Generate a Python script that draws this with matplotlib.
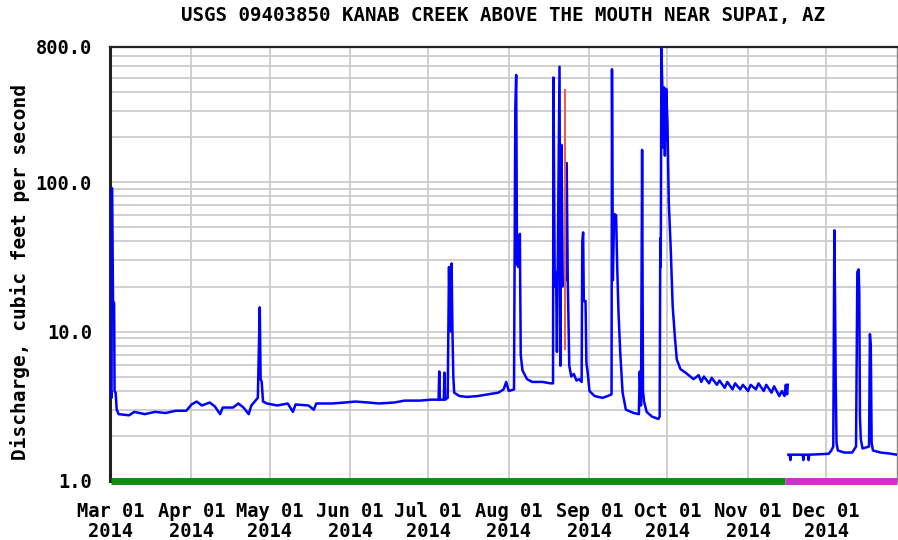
import numpy as np
import pandas as pd
import matplotlib
matplotlib.use('Agg')
import matplotlib.pyplot as plt
import matplotlib.dates as mdates
from matplotlib.ticker import FixedLocator, NullFormatter


#### DATA ####
title = 'USGS 09403850 KANAB CREEK ABOVE THE MOUTH NEAR SUPAI, AZ'
ylabel = 'Discharge, cubic feet per second'

# discharge, Mar 01 - Nov 16
main_times = [
    '2014-03-01 00:00', '2014-03-01 06:00', '2014-03-01 10:00', '2014-03-01 20:00',
    '2014-03-02 06:00', '2014-03-02 10:00', '2014-03-02 20:00', '2014-03-03 06:00',
    '2014-03-04', '2014-03-08', '2014-03-10', '2014-03-14', '2014-03-18', '2014-03-22',
    '2014-03-26', '2014-03-30',
    '2014-04-01', '2014-04-03', '2014-04-05', '2014-04-08', '2014-04-10', '2014-04-12',
    '2014-04-13', '2014-04-17', '2014-04-19', '2014-04-21', '2014-04-23', '2014-04-24',
    '2014-04-26 12:00', '2014-04-27 06:00', '2014-04-27 14:00', '2014-04-28',
    '2014-04-28 12:00', '2014-04-30',
    '2014-05-04', '2014-05-08', '2014-05-10', '2014-05-11', '2014-05-16', '2014-05-18',
    '2014-05-19', '2014-05-25', '2014-05-30',
    '2014-06-03', '2014-06-08', '2014-06-12', '2014-06-18', '2014-06-22', '2014-06-28',
    '2014-07-02', '2014-07-05', '2014-07-05 06:00', '2014-07-05 12:00', '2014-07-07',
    '2014-07-07 06:00', '2014-07-07 12:00', '2014-07-08 12:00', '2014-07-09',
    '2014-07-09 08:00', '2014-07-09 16:00', '2014-07-10', '2014-07-10 08:00',
    '2014-07-10 16:00', '2014-07-11', '2014-07-13', '2014-07-16', '2014-07-20',
    '2014-07-24', '2014-07-28', '2014-07-30', '2014-07-31', '2014-08-01',
    '2014-08-03', '2014-08-03 12:00', '2014-08-03 20:00', '2014-08-04 04:00',
    '2014-08-04 16:00', '2014-08-05 06:00', '2014-08-05 14:00', '2014-08-06 06:00',
    '2014-08-08', '2014-08-10', '2014-08-14', '2014-08-17',
    '2014-08-18 00:00', '2014-08-18 04:00', '2014-08-18 16:00', '2014-08-19 04:00',
    '2014-08-19 12:00', '2014-08-20 12:00', '2014-08-20 20:00', '2014-08-21 06:00',
    '2014-08-21 18:00', '2014-08-22 18:00', '2014-08-23 06:00', '2014-08-23 16:00',
    '2014-08-24 06:00', '2014-08-25', '2014-08-26', '2014-08-27', '2014-08-28',
    '2014-08-29', '2014-08-29 06:00', '2014-08-29 14:00', '2014-08-29 20:00',
    '2014-08-30 12:00', '2014-08-30 20:00', '2014-08-31 12:00',
    '2014-09-01', '2014-09-03', '2014-09-06', '2014-09-08', '2014-09-09 12:00',
    '2014-09-09 16:00', '2014-09-10 00:00', '2014-09-10 12:00', '2014-09-11 06:00',
    '2014-09-11 16:00', '2014-09-12 04:00', '2014-09-12 20:00', '2014-09-13 18:00',
    '2014-09-15', '2014-09-18', '2014-09-20 00:00', '2014-09-20 08:00',
    '2014-09-20 20:00', '2014-09-21 06:00', '2014-09-21 14:00', '2014-09-22',
    '2014-09-23', '2014-09-25', '2014-09-27 12:00',
    '2014-09-28 00:00', '2014-09-28 06:00', '2014-09-28 10:00', '2014-09-28 16:00',
    '2014-09-29 00:00', '2014-09-29 08:00', '2014-09-29 16:00', '2014-09-30 00:00',
    '2014-09-30 12:00', '2014-10-01 00:00', '2014-10-01 12:00', '2014-10-02 06:00',
    '2014-10-03 00:00', '2014-10-03 20:00', '2014-10-04 14:00', '2014-10-06',
    '2014-10-08', '2014-10-11',
    '2014-10-13', '2014-10-14', '2014-10-15', '2014-10-17', '2014-10-18', '2014-10-20',
    '2014-10-21', '2014-10-23', '2014-10-24', '2014-10-26', '2014-10-27', '2014-10-29',
    '2014-10-30', '2014-11-01', '2014-11-02', '2014-11-04', '2014-11-05', '2014-11-07',
    '2014-11-08', '2014-11-10', '2014-11-11', '2014-11-13', '2014-11-14', '2014-11-15',
    '2014-11-15 12:00', '2014-11-16', '2014-11-16 06:00',
]
main_values = [
    4.0, 3.6, 91, 16,
    15.5, 4.0, 3.9, 3.0,
    2.8, 2.75, 2.9, 2.8, 2.9, 2.85,
    2.95, 2.95,
    3.25, 3.4, 3.2, 3.35, 3.15, 2.8,
    3.1, 3.1, 3.3, 3.1, 2.8, 3.2,
    3.6, 14.5, 4.8, 4.6,
    3.4, 3.3,
    3.2, 3.3, 2.9, 3.25, 3.2, 3.0,
    3.3, 3.3, 3.35,
    3.4, 3.35, 3.3, 3.35, 3.45, 3.45,
    3.5, 3.5, 5.4, 3.5, 3.5,
    5.3, 3.5, 3.6, 27,
    12, 10, 28.5, 10,
    5, 3.9, 3.7, 3.65, 3.7,
    3.8, 3.9, 4.1, 4.6, 4.0,
    4.1, 310, 520, 28,
    27, 45, 7, 5.5,
    4.8, 4.6, 4.6, 4.5,
    4.5, 500, 20, 25,
    7.3, 590, 5.9, 177,
    20, 22, 134, 22,
    5.9, 5.0, 5.2, 4.7, 4.8,
    4.6, 40, 46, 16,
    16, 6.2, 5.0,
    4.0, 3.7, 3.6, 3.7, 3.8,
    568, 22, 61, 60,
    27.6, 13.5, 7.3, 3.9,
    3.0, 2.85, 2.8, 5.4,
    3.2, 164, 4.0, 3.4,
    2.9, 2.7, 2.6,
    2.7, 42, 27, 780,
    450, 170, 430, 150,
    420, 250, 74, 36,
    14.8, 9.3, 6.5, 5.6,
    5.3, 4.8,
    5.1, 4.6, 5.0, 4.5, 4.9, 4.4,
    4.7, 4.2, 4.6, 4.1, 4.5, 4.1,
    4.4, 4.0, 4.4, 4.1, 4.5, 4.0,
    4.4, 3.9, 4.3, 3.7, 4.0, 3.7,
    4.4, 3.8, 4.4,
]

# discharge after the break, Nov 16 - Dec 28
late_times = [
    '2014-11-16 12:00', '2014-11-17', '2014-11-17 06:00', '2014-11-17 12:00',
    '2014-11-22', '2014-11-22 06:00', '2014-11-22 12:00', '2014-11-24',
    '2014-11-24 06:00', '2014-11-24 12:00', '2014-12-02', '2014-12-03',
    '2014-12-03 18:00', '2014-12-04 04:00', '2014-12-04 10:00', '2014-12-04 16:00',
    '2014-12-05 00:00', '2014-12-05 12:00', '2014-12-08', '2014-12-11', '2014-12-12 12:00',
    '2014-12-13 00:00', '2014-12-13 12:00', '2014-12-13 18:00', '2014-12-14 00:00',
    '2014-12-14 08:00', '2014-12-15', '2014-12-17 12:00', '2014-12-17 20:00',
    '2014-12-18 04:00', '2014-12-18 12:00', '2014-12-19', '2014-12-22', '2014-12-25',
    '2014-12-28 06:00',
]
late_values = [
    1.5, 1.5, 1.38, 1.5,
    1.5, 1.38, 1.5, 1.5,
    1.38, 1.5, 1.52, 1.6,
    1.7, 47.5, 17, 5,
    1.8, 1.6, 1.55, 1.55, 1.7,
    25, 26, 18, 2.7,
    1.9, 1.65, 1.7, 9.6,
    8, 1.8, 1.6, 1.55, 1.53,
    1.5,
]

# second (red) trace
red_times = ['2014-08-22 12:00', '2014-08-22 12:00']
red_values = [410, 7.6]

# data-status bar along the bottom
approved_period = ['2014-03-01', '2014-11-15']
provisional_period = ['2014-11-15', '2014-12-28 06:00']

month_ticks = ['2014-03-01', '2014-04-01', '2014-05-01', '2014-06-01', '2014-07-01',
               '2014-08-01', '2014-09-01', '2014-10-01', '2014-11-01', '2014-12-01']
y_ticks = [1, 10, 100, 800]
y_tick_labels = ['1.0', '10.0', '100.0', '800.0']


def to_dt(lst):
    return pd.to_datetime(lst, format='ISO8601')


#### PLOT ####
font = 'DejaVu Sans Mono'
fig = plt.figure(figsize=(8.98, 5.4), dpi=100)
ax = fig.add_axes([110/898, 1-481/540, 787/898, 434/540])

t_main = to_dt(main_times)
t_late = to_dt(late_times)
t_red = to_dt(red_times)

minor = [m*10**e for e in range(0, 3) for m in range(2, 10) if m*10**e < 800]
ax.set_yscale('log')
ax.set_ylim(1, 800)
ax.yaxis.set_major_locator(FixedLocator(y_ticks))
ax.yaxis.set_minor_locator(FixedLocator(minor))
ax.yaxis.set_minor_formatter(NullFormatter())
ax.set_yticklabels(y_tick_labels)

ax.set_xlim(pd.Timestamp('2014-03-01') - pd.Timedelta(hours=8), pd.Timestamp('2014-12-28 06:00'))
ax.set_xticks(to_dt(month_ticks))
ax.xaxis.set_major_formatter(mdates.DateFormatter('%b %d\n%Y'))

ax.grid(True, which='both', axis='y', color='#cccccc', lw=1.3)
ax.grid(True, which='major', axis='x', color='#cccccc', lw=1.3)
ax.set_axisbelow(True)

ax.plot(t_main, main_values, color='#0000ff', lw=1.8, zorder=3)
ax.plot(t_late, late_values, color='#0000ff', lw=1.8, zorder=3)
ax.plot(t_red, red_values, color='#e8604c', lw=1.5, zorder=4)

ax.plot(to_dt(approved_period), [1, 1], color='#108c10', lw=5,
        solid_capstyle='butt', clip_on=False, zorder=5)
ax.plot(to_dt(provisional_period), [1, 1], color='#cc33cc', lw=5,
        solid_capstyle='butt', clip_on=False, zorder=5)

for s in ['left', 'top']:
    ax.spines[s].set_color('#222222')
ax.spines['left'].set_linewidth(2.2)
ax.spines['top'].set_linewidth(1.6)
ax.spines['right'].set_color('#888888')
ax.spines['right'].set_linewidth(1.0)
ax.spines['bottom'].set_visible(False)

ax.tick_params(which='both', length=0)
ax.tick_params(axis='y', pad=13)
ax.tick_params(axis='x', pad=15)
for lab in ax.get_xticklabels() + ax.get_yticklabels():
    lab.set_fontfamily(font)
    lab.set_fontweight('bold')
    lab.set_fontsize(13.5)
for lab in ax.get_xticklabels():
    lab.set_linespacing(1.05)

fig.text(503/898, 1-16/540, title, ha='center', va='center',
         fontfamily=font, fontweight='bold', fontsize=13.8)
fig.text(20/898, 1-272/540, ylabel, ha='center', va='center', rotation=90,
         fontfamily=font, fontweight='bold', fontsize=14)

fig.savefig('out.png', dpi=100)
